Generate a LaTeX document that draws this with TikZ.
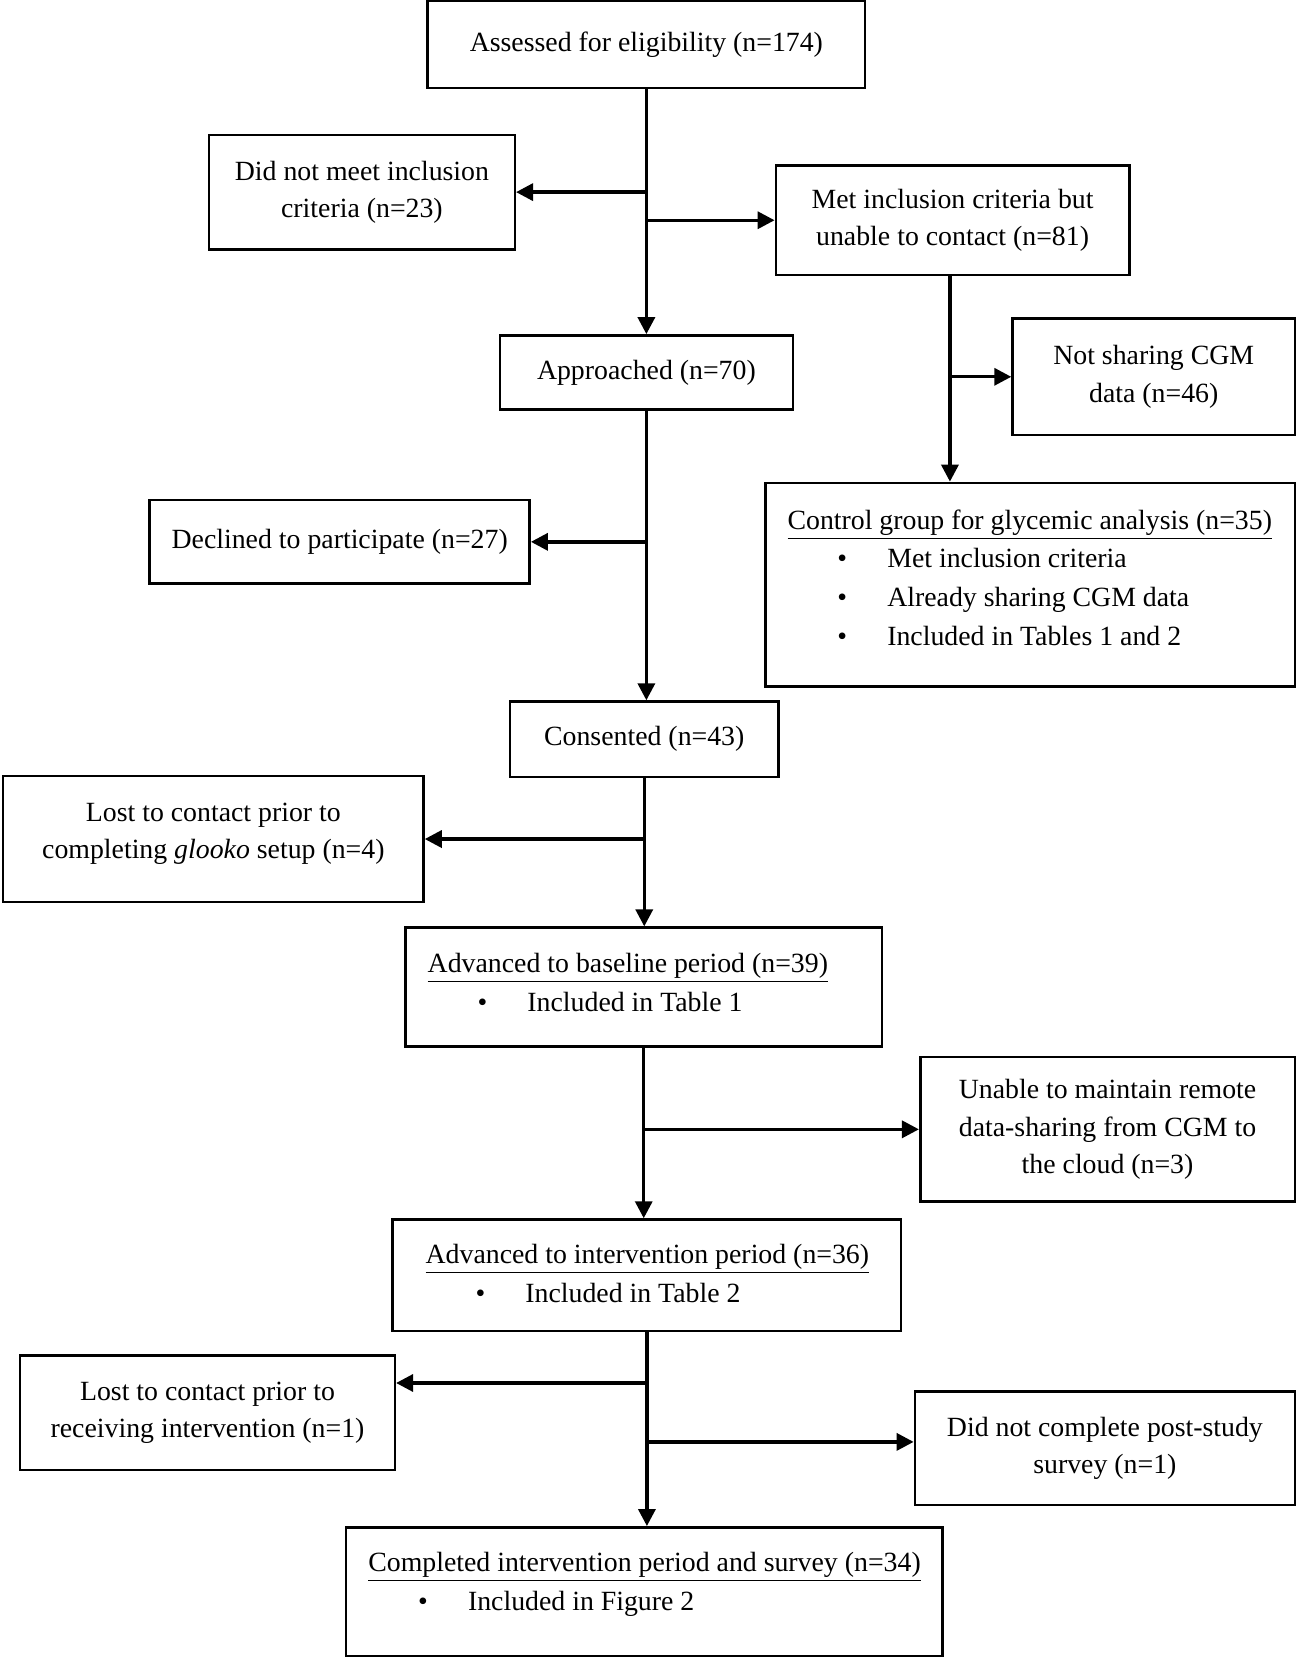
\documentclass[tikz,border=0pt]{standalone}
\usepackage{fontspec}
\setmainfont{Liberation Serif}
\usetikzlibrary{arrows.meta}
\newcommand{\bitem}[1]{\hspace*{23.5pt}\makebox[23.5pt][l]{\textbullet}#1}

\begin{document}
\begin{tikzpicture}[x=0.5pt, y=-0.5pt,
      font=\fontsize{13.1}{17.5}\selectfont,
      box/.style = {shape=rectangle, draw, line width=1.2pt,
        align=center, inner sep=0pt},
      listbox/.style = {box, align=flush left, inner xsep=10.5pt,
        font=\fontsize{13.1}{18.3}\selectfont},
      arr/.style = {-{Triangle[length=8pt,width=8pt]}, line width=1.6pt}]
    \useasboundingbox (0,0) rectangle (1225,1564);
    \node[box, minimum width=206pt, minimum height=41pt] (assessed) at (609,42)
      {Assessed for eligibility (n=174)};
    \node[box, minimum width=144pt, minimum height=54pt] (notmet) at (341,181)
      {Did not meet inclusion\\criteria (n=23)};
    \node[box, minimum width=166.5pt, minimum height=51.5pt] (unreach) at (897.5,207.5)
      {Met inclusion criteria but\\unable to contact (n=81)};
    \node[box, minimum width=138pt, minimum height=35pt] (approached) at (609,351)
      {Approached (n=70)};
    \node[box, minimum width=133pt, minimum height=55pt] (nocgm) at (1087,355)
      {Not sharing CGM\\data (n=46)};
    \node[listbox, text width=228.5pt, minimum height=96pt] (control) at (970.5,551)
      {\begin{tabular}{@{}l@{}}
       \underline{Control group for glycemic analysis (n=35)}\\
       \bitem{Met inclusion criteria}\\
       \bitem{Already sharing CGM data}\\
       \bitem{Included in Tables 1 and 2}\\[5pt]
       \end{tabular}};
    \node[box, minimum width=179pt, minimum height=39.5pt] (declined) at (320,510.5)
      {Declined to participate (n=27)};
    \node[box, minimum width=126.5pt, minimum height=35.5pt] (consented) at (607,696.5)
      {Consented (n=43)};
    \node[box, minimum width=198pt, minimum height=59.5pt] (lostsetup) at (201,790.5)
      {Lost to contact prior to\\completing \textit{glooko} setup (n=4)\\[-10pt]};
    \node[listbox, text width=203.5pt, minimum height=56pt] (baseline) at (606.5,930)
      {\begin{tabular}{@{}l@{}}
       \underline{Advanced to baseline period (n=39)}\\
       \bitem{Included in Table 1}\\[3pt]
       \end{tabular}};
    \node[box, minimum width=176.5pt, minimum height=68pt] (nosharing) at (1043.5,1064)
      {Unable to maintain remote\\data-sharing from CGM to\\the cloud (n=3)};
    \node[listbox, inner xsep=15.5pt, text width=208.5pt, minimum height=52.5pt]
      (intervention) at (609.5,1201.5)
      {\begin{tabular}{@{}l@{}}
       \underline{Advanced to intervention period (n=36)}\\
       \bitem{Included in Table 2}
       \end{tabular}};
    \node[box, minimum width=176.5pt, minimum height=54pt] (lostint) at (195.5,1331)
      {Lost to contact prior to\\receiving intervention (n=1)};
    \node[box, minimum width=179pt, minimum height=53.5pt] (nosurvey) at (1041,1364.5)
      {Did not complete post-study\\survey (n=1)};
    \node[listbox, text width=260pt, minimum height=60.5pt] (completed) at (607,1499.5)
      {\begin{tabular}{@{}l@{}}
       \underline{Completed intervention period and survey (n=34)}\\
       \bitem{Included in Figure 2}\\[8pt]
       \end{tabular}};

    \coordinate (lostin) at ([yshift=14pt]lostint.east);
    \coordinate (surveyin) at ([yshift=3pt]nosurvey.west);
    \coordinate (unreachout) at ([xshift=-1.25pt]unreach.south);

    \draw[arr] (assessed.south) -- (assessed.south |- approached.north);
    \draw[arr] (assessed.south |- notmet.east) -- (notmet.east);
    \draw[arr] (assessed.south |- unreach.west) -- (unreach.west);
    \draw[arr] (unreachout) -- (unreachout |- control.north);
    \draw[arr] (unreachout |- nocgm.west) -- (nocgm.west);
    \draw[arr] (approached.south) -- (approached.south |- consented.north);
    \draw[arr] (approached.south |- declined.east) -- (declined.east);
    \draw[arr] (consented.south) -- (consented.south |- baseline.north);
    \draw[arr] (consented.south |- lostsetup.east) -- (lostsetup.east);
    \draw[arr] (baseline.south) -- (baseline.south |- intervention.north);
    \draw[arr] (baseline.south |- nosharing.west) -- (nosharing.west);
    \draw[arr] (intervention.south) -- (intervention.south |- completed.north);
    \draw[arr] (intervention.south |- lostin) -- (lostin);
    \draw[arr] (intervention.south |- surveyin) -- (surveyin);
\end{tikzpicture}
\end{document}
